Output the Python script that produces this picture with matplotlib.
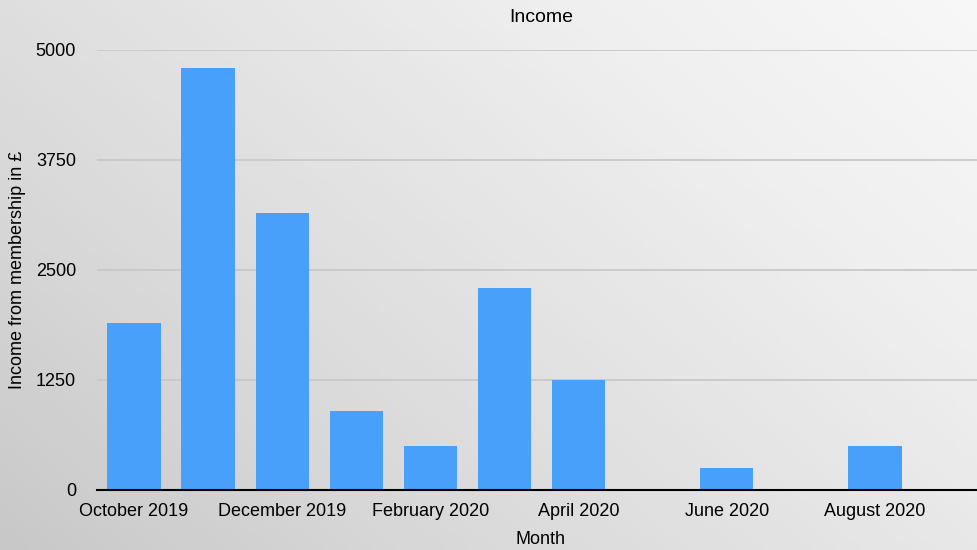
import numpy as np
import matplotlib
matplotlib.use('Agg')
import matplotlib.pyplot as plt

months = ["October 2019", "November 2019", "December 2019", "January 2020",
          "February 2020", "March 2020", "April 2020", "May 2020",
          "June 2020", "July 2020", "August 2020"]
income = [1900, 4800, 3150, 900, 500, 2300, 1250, 0, 250, 0, 500]
yticks = [0, 1250, 2500, 3750, 5000]

plt.rcParams['font.family'] = ['Liberation Sans', 'DejaVu Sans']

W, H = 978, 550
fig = plt.figure(figsize=(W / 100, H / 100), dpi=100)

# gradient background, darker bottom-left to lighter top-right
bg = fig.add_axes([0, 0, 1, 1], zorder=-1)
gx, gy = np.meshgrid(np.linspace(0, 1, 200), np.linspace(0, 1, 120))
g = (gx * 0.6 + gy * 0.4)
bg.imshow(g, cmap='Greys_r', vmin=-2.6, vmax=1.25, origin='lower',
          aspect='auto', extent=[0, 1, 0, 1])
bg.axis('off')

ax = fig.add_axes([97 / W, 60 / H, 881 / W, 440 / H])
ax.patch.set_alpha(0)
x = np.arange(len(months))
ax.bar(x, income, width=0.72, color='#48a0fa', zorder=3)

ax.set_ylim(0, 5000)
ax.set_xlim(-0.5, 11.39)
ax.set_yticks(yticks)
ax.set_yticklabels([str(v) for v in yticks], fontsize=13)
ax.set_xticks(x[::2])
ax.set_xticklabels(months[::2], fontsize=13)
ax.tick_params(length=0)
ax.tick_params(axis='x', pad=9)
ax.tick_params(axis='y', pad=15)
ax.yaxis.grid(True, color='#c6c6c6', lw=1.2, zorder=0)
for s in ['top', 'right', 'left']:
    ax.spines[s].set_visible(False)
ax.spines['bottom'].set_color('black')
ax.spines['bottom'].set_linewidth(1.5)
ax.spines['bottom'].set_zorder(4)

# titles placed in figure pixels
fig.text(541 / W, 1 - 17 / H, "Income", fontsize=14, ha='center', va='center')
fig.text(541 / W, 1 - 540 / H, "Month", fontsize=13, ha='center', va='center')
fig.text(18 / W, 1 - 270 / H, "Income from membership in £", fontsize=13,
         rotation=90, ha='center', va='center')

fig.savefig("out.png", dpi=100)
